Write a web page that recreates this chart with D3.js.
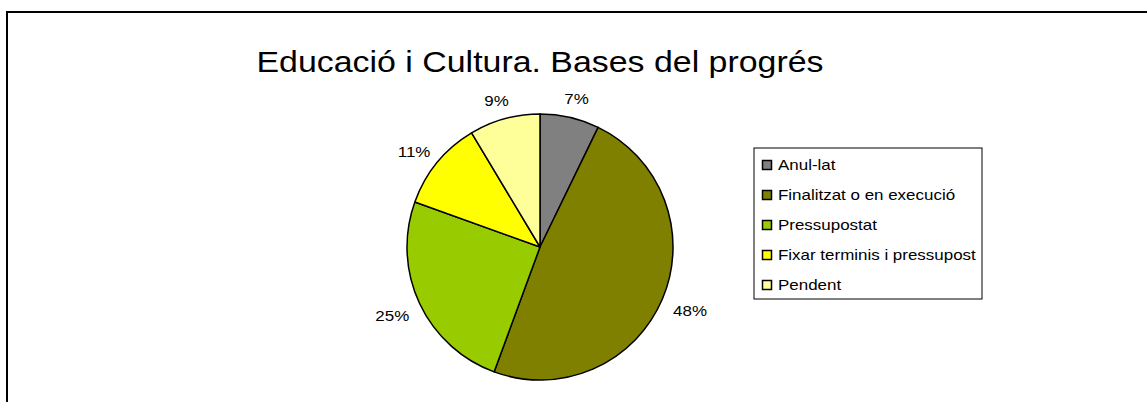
<!DOCTYPE html>
<html>
<head>
<meta charset="utf-8">
<script src="https://cdn.jsdelivr.net/npm/d3@7"></script>
<style>
  html, body { margin: 0; padding: 0; background: #fff; }
  svg { display: block; font-family: 'Liberation Sans', Arial, sans-serif; }
</style>
</head>
<body>
<div id="chart"></div>
<script>
const title = 'Educació i Cultura. Bases del progrés'
const categories = ['Anul-lat', 'Finalitzat o en execució', 'Pressupostat', 'Fixar terminis i pressupost', 'Pendent']
const values = [7.2, 48.4, 24.9, 10.9, 8.6]
const colors = ['#808080', '#808000', '#99cc00', '#ffff00', '#ffff99']

const width = 1147
const height = 402
const cx = 540
const cy = 247
const radius = 133
// the original text renders a bit wider than Liberation Sans
const stretch = 1.13

const data = categories.map((label, i) => ({ label, value: values[i], color: colors[i] }))
const total = d3.sum(values)

const svg = d3.select('#chart')
  .append('svg')
  .attr('width', width)
  .attr('height', height)

// chart frame (runs past the window on right and bottom)
svg.append('rect')
  .attr('x', 7)
  .attr('y', 12)
  .attr('width', width + 20)
  .attr('height', height + 20)
  .attr('fill', '#fff')
  .attr('stroke', '#000')
  .attr('stroke-width', 2)

svg.append('text')
  .attr('transform', `translate(540, 72) scale(${stretch}, 1)`)
  .attr('text-anchor', 'middle')
  .attr('font-size', '30px')
  .attr('fill', '#000')
  .text(title)

const pie = d3.pie()
  .value(d => d.value)
  .sort(null)

const arc = d3.arc()
  .innerRadius(0)
  .outerRadius(radius)

const g = svg.append('g')
  .attr('transform', `translate(${cx}, ${cy})`)

const slices = g.selectAll('g.slice')
  .data(pie(data))
  .enter()
  .append('g')
  .attr('class', 'slice')

slices.append('path')
  .attr('d', arc)
  .attr('fill', d => d.data.color)
  .attr('stroke', '#000')
  .attr('stroke-width', 1.5)
  .attr('stroke-linejoin', 'round')

const midAngle = d => d.startAngle + (d.endAngle - d.startAngle) / 2

slices.append('text')
  .attr('transform', d => {
    const a = midAngle(d)
    const s = Math.sin(a), c = Math.cos(a)
    const r = radius + 14
    const halfW = 16, halfH = 8
    const x = r * s + s * halfW
    const y = -r * c - c * halfH + 3
    return `translate(${x}, ${y}) scale(${stretch}, 1)`
  })
  .attr('text-anchor', 'middle')
  .attr('dy', '.35em')
  .attr('font-size', '15px')
  .attr('fill', '#000')
  .text(d => Math.round(d.data.value / total * 100) + '%')

// legend
const legend = svg.append('g')
  .attr('transform', 'translate(754, 148)')

legend.append('rect')
  .attr('width', 228)
  .attr('height', 151)
  .attr('fill', '#fff')
  .attr('stroke', '#000')
  .attr('stroke-width', 1)

const items = legend.selectAll('g.item')
  .data(data)
  .enter()
  .append('g')
  .attr('class', 'item')
  .attr('transform', (d, i) => `translate(0, ${17 + i * 30})`)

items.append('rect')
  .attr('x', 8.5)
  .attr('y', -4.5)
  .attr('width', 9)
  .attr('height', 9)
  .attr('fill', d => d.color)
  .attr('stroke', '#000')
  .attr('stroke-width', 1.5)

items.append('text')
  .attr('transform', `translate(24, 0) scale(${stretch}, 1)`)
  .attr('dy', '.35em')
  .attr('font-size', '15px')
  .attr('fill', '#000')
  .text(d => d.label)
</script>
</body>
</html>
